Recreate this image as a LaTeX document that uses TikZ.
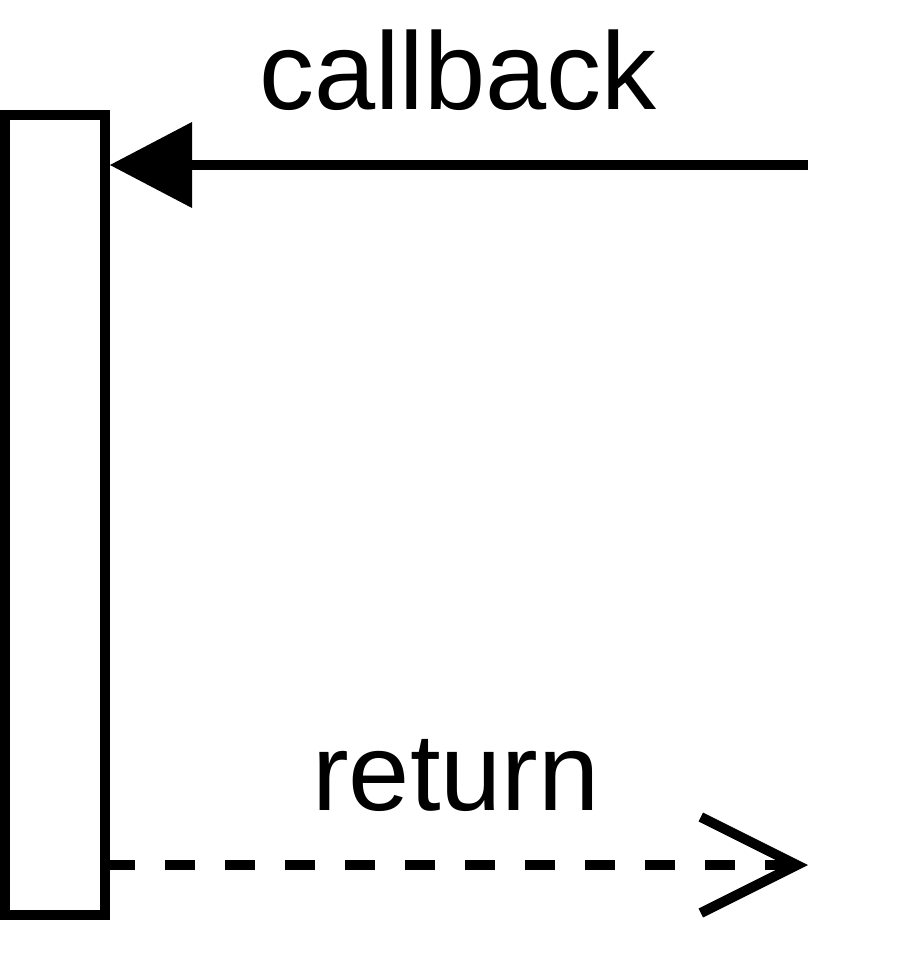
\documentclass[tikz,border=0pt]{standalone}
\usepackage{fontspec}
\setmainfont{Liberation Sans}
\usetikzlibrary{arrows.meta}
\begin{document}
\begin{tikzpicture}[x=1pt,y=-1pt,
  activation/.style={draw=black,line width=10pt,fill=white,minimum width=100pt,minimum height=800pt,inner sep=0pt},
  msglabel/.style={anchor=base,inner sep=0pt,font=\fontsize{110}{130}\selectfont},
  callmsg/.style={line width=10pt,-{Triangle[length=82pt,width=86pt,line width=0pt]}},
  retmsg/.style={line width=10pt,dash pattern=on 30pt off 30pt,dash phase=5pt,-{Straight Barb[length=96pt,width=96pt]}}]
\useasboundingbox (0,0) rectangle (910,960);
\node[activation] (act) at (55,515) {};
\coordinate (cbstart) at (808,165);
\coordinate (retend) at (808,865);
\node[msglabel] (cblabel) at (458,110) {callback};
\node[msglabel] (retlabel) at (456,810) {return};
\draw[callmsg] (cbstart) -- (act.east |- cbstart);
\draw[retmsg] (act.east |- retend) -- (retend);
\end{tikzpicture}
\end{document}
